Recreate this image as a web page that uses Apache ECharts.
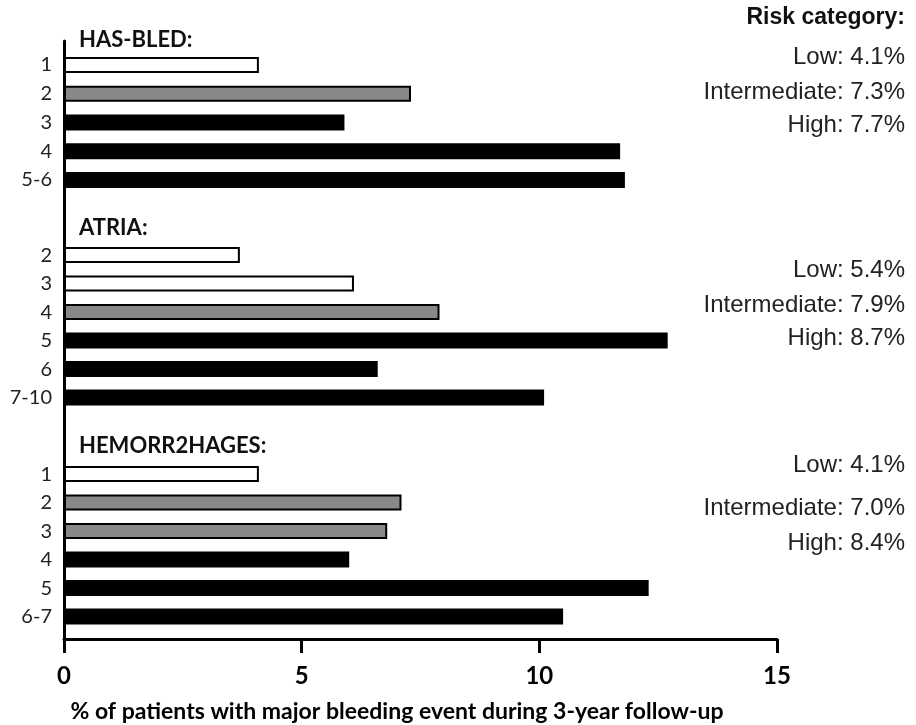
<!DOCTYPE html>
<html>
<head>
<meta charset="utf-8">
<script src="https://cdn.jsdelivr.net/npm/echarts@6/dist/echarts.min.js"></script>
<style>html,body{margin:0;padding:0;background:#fff;}#chart{width:916px;height:725px;}</style>
</head>
<body>
<div id="chart"></div>
<script>
// ---- data ----
const groupTitles = ['HAS-BLED:', 'ATRIA:', 'HEMORR2HAGES:'];
const hasbledCats = ['1', '2', '3', '4', '5-6'];
const hasbledValues = [4.1, 7.3, 5.9, 11.7, 11.8];
const hasbledRisk = ['Low', 'Intermediate', 'High', 'High', 'High'];
const atriaCats = ['2', '3', '4', '5', '6', '7-10'];
const atriaValues = [3.7, 6.1, 7.9, 12.7, 6.6, 10.1];
const atriaRisk = ['Low', 'Low', 'Intermediate', 'High', 'High', 'High'];
const hemCats = ['1', '2', '3', '4', '5', '6-7'];
const hemValues = [4.1, 7.1, 6.8, 6.0, 12.3, 10.5];
const hemRisk = ['Low', 'Intermediate', 'Intermediate', 'High', 'High', 'High'];
const riskHeader = 'Risk category:';
const hasbledSummary = ['Low: 4.1%', 'Intermediate: 7.3%', 'High: 7.7%'];
const atriaSummary = ['Low: 5.4%', 'Intermediate: 7.9%', 'High: 8.7%'];
const hemSummary = ['Low: 4.1%', 'Intermediate: 7.0%', 'High: 8.4%'];
const xMin = 0, xMax = 15, xInterval = 5;
const xTitle = '% of patients with major bleeding event during 3-year follow-up';

// ---- styling ----
const riskFill = { Low: '#ffffff', Intermediate: '#888888', High: '#000000' };
const catFont = 'Lato, "Open Sans", sans-serif';
const arialFont = '"Liberation Sans", Arial, sans-serif';
const LEFT = 64, WIDTH = 713;

const groups = [
  { cats: hasbledCats, vals: hasbledValues, risk: hasbledRisk, top: 50.6, pitch: 28.75 },
  { cats: atriaCats, vals: atriaValues, risk: atriaRisk, top: 240.8, pitch: 28.5 },
  { cats: hemCats, vals: hemValues, risk: hemRisk, top: 459.8, pitch: 28.5 }
];

const grids = [{ left: LEFT, width: WIDTH, top: 41, height: 598, containLabel: false, outerBoundsMode: 'none' }];
const xAxes = [{
  gridIndex: 0, type: 'value', min: xMin, max: xMax, interval: xInterval,
  axisLine: { show: true, lineStyle: { color: '#000', width: 3 } },
  axisTick: { show: true, length: 14, lineStyle: { color: '#000', width: 3 } },
  axisLabel: { margin: 25, color: '#000', fontSize: 24, fontWeight: 'bold', fontFamily: catFont },
  splitLine: { show: false },
  name: xTitle, nameLocation: 'middle', nameGap: 61,
  nameTextStyle: { color: '#000', fontSize: 23, fontWeight: 'bold', fontFamily: catFont, padding: [0, 47, 0, 0] }
}];
const yAxes = [{
  gridIndex: 0, type: 'value', min: 0, max: 1,
  axisLine: { show: true, lineStyle: { color: '#000', width: 3 } },
  axisTick: { show: false }, axisLabel: { show: false }, splitLine: { show: false }
}];
const series = [];

groups.forEach((g, i) => {
  const gi = i + 1;
  grids.push({ left: LEFT, width: WIDTH, top: g.top, height: g.pitch * g.cats.length, containLabel: false, outerBoundsMode: 'none' });
  xAxes.push({ gridIndex: gi, type: 'value', min: xMin, max: xMax, show: false });
  yAxes.push({
    gridIndex: gi, type: 'category', data: g.cats, inverse: true,
    axisLine: { show: false }, axisTick: { show: false },
    axisLabel: { margin: 12, color: '#222', fontSize: 20, fontFamily: catFont }
  });
  series.push({
    type: 'bar', xAxisIndex: gi, yAxisIndex: gi, barWidth: 16, silent: true,
    data: g.vals.map((v, k) => ({
      value: v,
      itemStyle: { color: riskFill[g.risk[k]], borderColor: '#000', borderWidth: 2 }
    }))
  });
});

const graphic = [];
const headerY = [40, 228, 446];
groupTitles.forEach((t, i) => {
  graphic.push({ type: 'text', x: 79, y: headerY[i],
    style: { text: t, fontSize: 22, fontWeight: 'bold', fontFamily: catFont, fill: '#111', align: 'left', verticalAlign: 'middle' } });
});
graphic.push({ type: 'text', x: 905, y: 18,
  style: { text: riskHeader, fontSize: 23, fontWeight: 'bold', fontFamily: arialFont, fill: '#111', align: 'right', verticalAlign: 'middle' } });
const summaries = [
  { lines: hasbledSummary, ys: [57, 92, 125] },
  { lines: atriaSummary, ys: [270, 305, 338] },
  { lines: hemSummary, ys: [465, 508, 543] }
];
summaries.forEach(s => s.lines.forEach((t, k) => {
  graphic.push({ type: 'text', x: 905, y: s.ys[k],
    style: { text: t, fontSize: 24, fontFamily: arialFont, fill: '#222', align: 'right', verticalAlign: 'middle' } });
}));

const chart = echarts.init(document.getElementById('chart'), null, { renderer: 'canvas' });
chart.setOption({
  animation: false,
  backgroundColor: '#fff',
  grid: grids, xAxis: xAxes, yAxis: yAxes, series: series, graphic: graphic
});
</script>
</body>
</html>
